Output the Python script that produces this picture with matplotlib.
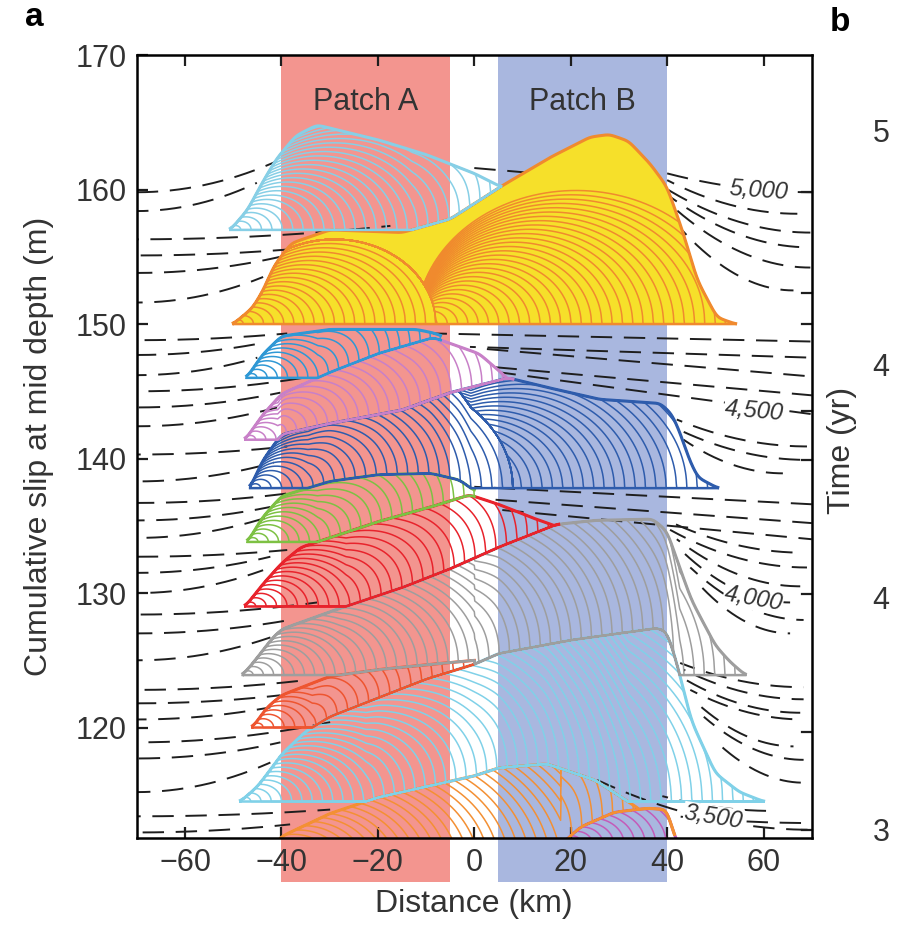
import numpy as np
import matplotlib.pyplot as plt
from matplotlib.patches import Rectangle

plt.rcParams["font.family"] = ["Liberation Sans", "DejaVu Sans"]

# locked asperities along strike (km)
PATCH_A = (-40, -5)
PATCH_B = (5, 40)

# Final slip profile of each rupture, oldest first (x in km, cumulative slip in m).
PURPLE_X = [18.0, 22.0, 29.0, 36.0, 40.0, 41.3, 42.0]
PURPLE_Y = [111.3, 112.6, 113.7, 114.0, 113.9, 112.2, 111.3]

ORANGE_X = [-46.0, -40.0, -30.0, -20.0, -10.0, 0.0, 5.0, 15.0, 25.0, 34.0, 40.0, 41.5]
ORANGE_Y = [109.5, 111.9, 113.6, 114.8, 115.6, 116.4, 117.0, 117.3, 116.1, 114.0, 112.0, 111.0]

CYAN_X = [-48.5, -45.0, -42.0, -40.0, -35.0, -30.0, -20.0, -10.0, 0.0, 5.0, 20.0, 38.0,
          40.0, 42.0, 45.0, 50.0, 55.0, 60.0]
CYAN_Y = [114.5, 115.6, 117.0, 118.0, 119.7, 120.8, 122.2, 123.6, 124.7, 125.5, 126.5, 127.4,
          127.1, 124.8, 120.5, 116.6, 115.2, 114.5]

VERMILION_X = [-46.0, -43.0, -40.0, -30.0, -20.0, -9.0, 0.0]
VERMILION_Y = [120.0, 121.5, 122.4, 123.8, 124.3, 124.7, 125.0]

GREY_X = [-48.0, -45.0, -42.0, -40.0, -30.0, -15.0, -5.0, 5.0, 17.0, 25.0, 37.0, 40.0,
          42.0, 45.0, 50.0, 53.0, 56.2]
GREY_Y = [123.9, 125.2, 126.6, 127.3, 128.6, 130.4, 131.8, 133.4, 135.1, 135.4, 135.5, 134.6,
          132.5, 129.5, 126.1, 124.9, 123.9]

RED_X = [-47.5, -44.0, -40.0, -36.0, -30.0, -20.0, -9.0, -1.0, 5.0, 12.0, 17.5]
RED_Y = [129.0, 130.6, 132.2, 133.4, 134.1, 135.3, 136.4, 137.3, 136.6, 135.6, 134.9]

GREEN_X = [-47.0, -44.0, -40.0, -30.0, -20.0, -9.0, -3.0, 0.0]
GREEN_Y = [133.8, 135.6, 137.2, 138.3, 138.8, 138.9, 138.4, 137.6]

NAVY_X = [-46.5, -44.0, -40.0, -30.0, -15.0, -5.0, 7.0, 15.0, 26.0, 38.6, 41.0, 42.7,
          44.5, 46.3, 50.5]
NAVY_Y = [137.8, 139.8, 141.8, 142.6, 143.6, 144.9, 146.0, 145.3, 144.4, 144.1, 143.3, 141.9,
          140.0, 138.6, 137.8]

PINK_X = [-47.5, -44.0, -40.0, -30.0, -20.0, -8.5, 1.0, 6.8, 8.0]
PINK_Y = [141.4, 143.2, 144.8, 146.4, 147.8, 149.0, 147.8, 146.0, 145.5]

BLUE_X = [-47.2, -44.0, -40.0, -30.0, -12.0, -8.0, -7.0]
BLUE_Y = [146.0, 147.7, 149.1, 149.6, 149.6, 149.3, 149.1]

YELLOW_X = [-50.0, -46.0, -43.8, -41.6, -38.0, -30.0, -22.0, -15.0, -5.0, 5.4, 15.8, 24.0,
            28.0, 32.0, 36.5, 40.0, 43.4, 46.2, 50.3, 54.2]
YELLOW_Y = [150.0, 151.2, 152.5, 154.3, 156.0, 157.0, 156.9, 156.8, 157.8, 160.2, 162.4, 163.9,
            164.1, 163.6, 161.9, 160.2, 156.7, 153.3, 150.5, 150.0]

SKY_X = [-50.6, -47.0, -44.0, -41.0, -37.0, -32.6, -20.0, -10.0, 0.0, 5.5]
SKY_Y = [157.0, 158.5, 160.5, 162.3, 164.0, 164.8, 163.7, 162.6, 161.2, 160.2]

# baseline slip before each rupture (m)
EVENT_BASE = [111.3, 109.5, 114.5, 120.0, 123.9, 129.0, 133.8, 137.8, 141.4, 146.0, 150.0, 157.0]

# rupture fronts: (nucleation, arrest) in km
EVENT_FRONTS = [
    [(18.0, 42.0)],
    [(-46.0, 41.5)],
    [(-48.5, 60.0)],
    [(-46.0, 0.0)],
    [(-48.0, 56.2)],
    [(-47.5, 17.5)],
    [(-47.0, 0.0)],
    [(-46.5, 8.0), (-16.0, 50.5)],
    [(-47.5, 8.0)],
    [(-47.2, -7.0)],
    [(-50.0, -8.0), (-12.0, 54.2)],
    [(-50.6, 5.5)],
]

# interseismic isochrons, left side: slip at x=-70 and where each line ends
LEFT_Y0 = [159.8, 158.4, 156.3, 155.1, 153.8, 151.6, 148.8, 147.7, 146.2, 145.0, 143.8, 142.4,
           140.3, 138.3, 136.7, 135.4, 134.1, 132.7, 131.5, 130.0, 128.4, 127.0, 125.0,
           122.8, 121.8, 120.6, 118.9, 117.7, 115.2, 113.4, 112.2]
LEFT_X1 = [-41.0, -45.1, -17.4, -36.7, -36.7, -43.8, -38.8, -43.8, -45.0, -35.5, -40.2, -40.9,
           -38.8, -41.6, -36.7, -42.3, -42.3, -38.8, -42.3, -43.8, -32.6, -38.2, -42.3,
           -35.5, -40.2, -42.3, -29.9, -40.2, -42.3, -29.9, -38.2]
LEFT_Y1 = [162.1, 160.5, 157.3, 155.6, 155.3, 153.5, 149.3, 148.6, 147.5, 146.0, 144.9, 143.8,
           140.9, 139.7, 137.5, 136.4, 135.7, 133.2, 132.7, 131.7, 129.3, 128.0, 126.7,
           123.5, 122.4, 121.5, 120.4, 118.9, 117.4, 113.9, 112.8]

# isochrons leaving the right-hand edge of ruptures: start (x, y) and end (x, y)
RIGHT_X0 = [40.0, 40.0, 39.2, 39.7, 40.3, 41.3,
            42.0, 42.7, 43.4,
            40.0, 40.6, 42.0, 43.4, 44.8, 46.2,
            42.7, 43.4, 44.1, 44.8, 46.2, 47.6, 49.7,
            25.5, 39.0, 42.0]
RIGHT_Y0 = [161.2, 160.7, 160.2, 159.7, 159.0, 157.7,
            142.9, 142.1, 141.4,
            135.4, 134.7, 134.0, 133.0, 131.9, 130.8,
            124.8, 124.3, 123.5, 122.8, 121.8, 120.8, 119.1,
            116.1, 114.9, 113.4]
RIGHT_X1 = [70.0, 67.0, 69.7, 69.7, 69.7, 66.2,
            69.0, 69.0, 64.0,
            68.3, 69.0, 67.6, 65.5, 68.3, 65.5,
            68.3, 68.3, 67.6, 68.3, 66.2, 68.3, 68.3,
            69.7, 62.0, 70.0]
RIGHT_Y1 = [159.8, 158.2, 156.8, 155.7, 154.2, 152.5,
            140.9, 139.9, 138.9,
            133.0, 131.9, 130.5, 129.3, 128.0, 127.0,
            123.0, 122.1, 121.1, 120.6, 118.6, 117.6, 115.9,
            112.4, 113.8, 112.9]

# near-straight isochrons crossing the gap and patch B
MID_X0 = [0.0, -8.5, -0.9, 0.6, 4.0, 5.4, 0.0, 2.0, 5.0]
MID_Y0 = [161.6, 149.3, 148.3, 148.2, 146.8, 146.4, 137.9, 137.0, 136.2]
MID_X1 = [13.0, 70.0, 70.0, 70.0, 70.0, 70.0, 70.0, 70.0, 70.0]
MID_Y1 = [161.2, 148.7, 147.5, 146.1, 144.7, 143.3, 136.6, 135.2, 134.0]

# isochron labels (yr)
ISO_TEXT = ["5,000", "4,500", "4,000", "3,500"]
ISO_X = [58.9, 58.1, 57.9, 49.6]
ISO_Y = [159.9, 143.5, 129.6, 113.3]
ISO_ROT = [-4, -5, -10, -9]

# ticks on the right spine (shared with panel b)
RIGHT_TICKS = [159.8, 152.3, 150.0, 143.5, 139.9, 129.9, 119.7, 112.4]

LINE_COLORS = ["#c45bb9", "#f39034", "#80d1e8", "#ee5530", "#9e9e9e", "#e8232c",
               "#7dc143", "#2e5cac", "#c880c8", "#2f98d5", "#f08a2e", "#87cfe6"]
FILL_COLORS = [None] * 10 + ["#f6e02a", None]

X = np.round(np.arange(-70.0, 70.0001, 0.1), 2)


def outline(x, px, py, sigma=0.7):
    y = np.interp(x, px, py)
    half = int(3 * sigma / 0.1)
    k = np.exp(-0.5 * (np.arange(-half, half + 1) * 0.1 / sigma) ** 2)
    k /= k.sum()
    ypad = np.concatenate([np.full(half, y[0]), y, np.full(half, y[-1])])
    return np.convolve(ypad, k, mode="valid")


def draw_event(ax, S, px, py, base, fronts, line, fill, z, c=0.3, step=2.1):
    m = (X >= px[0]) & (X <= px[-1])
    x = X[m]
    bottom = np.maximum(S[m], base)
    top = np.maximum(outline(x, px, py), bottom)
    depth = top - bottom
    if fill:
        ax.fill_between(x, bottom, top, color=fill, lw=0, zorder=z - 0.005)
    done = np.zeros_like(x)
    for a, b in fronts:
        n = max(int((b - a) / step), 4)
        slip = done
        for bk in np.linspace(a, b, n + 1)[1:]:
            crack = c * np.sqrt(np.clip((x - a) * (bk - x), 0, None))
            slip = np.minimum(depth, np.maximum(done, crack))
            ax.plot(x, bottom + slip, color=line, lw=1.1, zorder=z)
        done = slip
    ax.plot(x, bottom, color=line, lw=1.8, zorder=z)
    ax.plot(x, top, color=line, lw=2.2, zorder=z)
    S[m] = top


fig = plt.figure(figsize=(9.0, 9.33), dpi=100)
ax = fig.add_axes([0.152, 0.102, 0.75, 0.839])
ax.set_xlim(-70, 70)
ax.set_ylim(111.8, 170)

for (x0, x1), col in ((PATCH_A, "#f3958f"), (PATCH_B, "#a9b7df")):
    ax.add_patch(Rectangle((x0, 108.5), x1 - x0, 170 - 108.5, facecolor=col,
                           edgecolor="none", clip_on=False, zorder=0.5))

ax.text(np.mean(PATCH_A), 166.5, "Patch A", ha="center", va="center",
        fontsize=22, color="#333333", zorder=6)
ax.text(np.mean(PATCH_B), 166.5, "Patch B", ha="center", va="center",
        fontsize=22, color="#333333", zorder=6)

dash_kw = dict(color="#1e1e1e", lw=1.4, zorder=2)
for i, (y0, x1, y1) in enumerate(zip(LEFT_Y0, LEFT_X1, LEFT_Y1)):
    x = np.linspace(-70, x1, 200)
    u = (x + 70) / (x1 + 70)
    ax.plot(x, y0 + (y1 - y0) * u ** 2, ls=((i * 5) % 17, (11, 6)), **dash_kw)
for i, (x0, y0, x1, y1) in enumerate(zip(RIGHT_X0, RIGHT_Y0, RIGHT_X1, RIGHT_Y1)):
    x = np.linspace(x0, x1, 200)
    u = (x - x0) / (x1 - x0)
    ax.plot(x, y1 + (y0 - y1) * (1 - u) ** 2, ls=((i * 7) % 17, (11, 6)), **dash_kw)
for i, (x0, y0, x1, y1) in enumerate(zip(MID_X0, MID_Y0, MID_X1, MID_Y1)):
    ax.plot([x0, x1], [y0, y1], ls=((i * 4) % 17, (11, 6)), **dash_kw)

profiles = [(PURPLE_X, PURPLE_Y), (ORANGE_X, ORANGE_Y), (CYAN_X, CYAN_Y),
            (VERMILION_X, VERMILION_Y), (GREY_X, GREY_Y), (RED_X, RED_Y),
            (GREEN_X, GREEN_Y), (NAVY_X, NAVY_Y), (PINK_X, PINK_Y),
            (BLUE_X, BLUE_Y), (YELLOW_X, YELLOW_Y), (SKY_X, SKY_Y)]
S = np.full_like(X, -np.inf)
for i, (px, py) in enumerate(profiles):
    draw_event(ax, S, px, py, EVENT_BASE[i], EVENT_FRONTS[i],
               LINE_COLORS[i], FILL_COLORS[i], z=3 + i * 0.01)

for txt, x, y, r in zip(ISO_TEXT, ISO_X, ISO_Y, ISO_ROT):
    ax.text(x, y, txt, fontsize=17, style="italic", color="#333333", rotation=r,
            ha="center", va="center", zorder=5,
            bbox=dict(facecolor="white", edgecolor="none", pad=0.5))

ytr = ax.get_yaxis_transform()
for y in RIGHT_TICKS:
    ax.plot([0.985, 1.0], [y, y], transform=ytr, color="#1e1e1e", lw=1.6,
            clip_on=False, zorder=6)

ax.set_xticks([-60, -40, -20, 0, 20, 40, 60])
ax.set_xticklabels(["\u221260", "\u221240", "\u221220", "0", "20", "40", "60"])
ax.set_yticks([120, 130, 140, 150, 160, 170])
ax.tick_params(direction="in", length=8, width=1.6, labelsize=22, pad=7,
               top=True, right=False, colors="#1e1e1e", labelcolor="#333333")
for sp in ax.spines.values():
    sp.set_linewidth(1.8)
    sp.set_zorder(7)

ax.set_xlabel("Distance (km)", fontsize=23, color="#333333", labelpad=8)
ax.set_ylabel("Cumulative slip at mid depth (m)", fontsize=23, color="#333333", labelpad=16)

fig.text(0.028, 0.981, "a", fontsize=24, fontweight="bold", va="center")
fig.text(0.922, 0.976, "b", fontsize=24, fontweight="bold", va="center")
for s, yp in (("5", 134), ("4", 368), ("4", 601), ("3", 833)):
    fig.text(0.979, 1 - yp / 933, s, fontsize=22, color="#333333", ha="center", va="center")
fig.text(0.936, 1 - 450 / 933, "Time (yr)", fontsize=23, color="#333333",
         rotation=90, ha="center", va="center")

fig.savefig("out.png", dpi=100)
